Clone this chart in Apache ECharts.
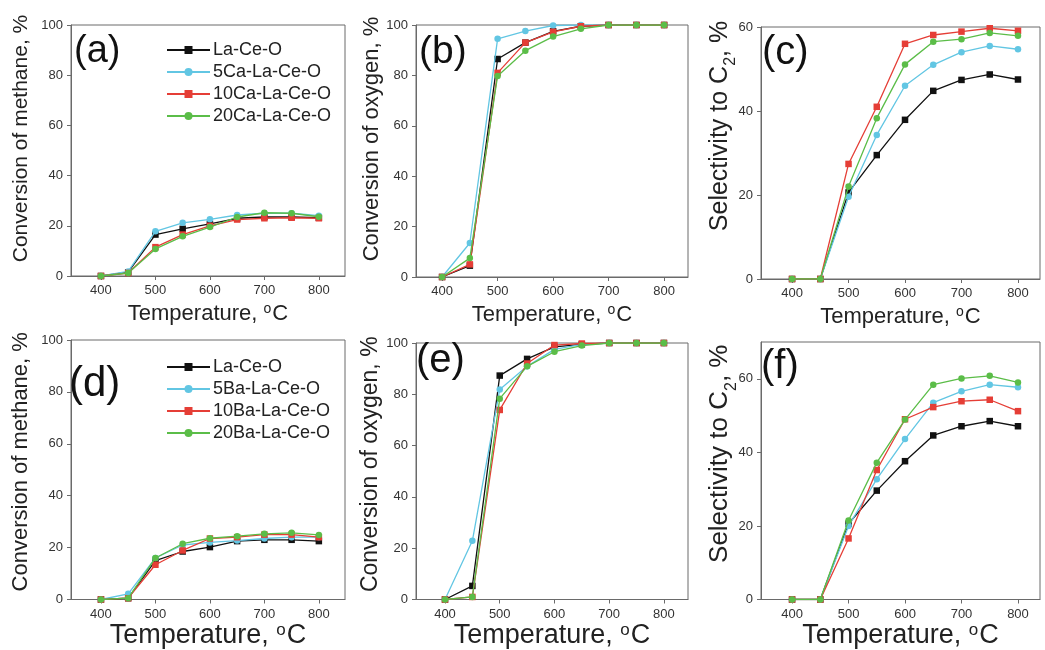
<!DOCTYPE html>
<html>
<head>
<meta charset="utf-8">
<script src="https://cdn.jsdelivr.net/npm/echarts@6/dist/echarts.min.js"></script>
<style>html,body{margin:0;padding:0;background:#fff}#c{width:1045px;height:650px}</style>
</head>
<body>
<div id="c"></div>
<script>
// ---- data ----
const temps = [400, 450, 500, 550, 600, 650, 700, 750, 800];
const xTicks = [400, 500, 600, 700, 800];

const namesCa = ['La-Ce-O', '5Ca-La-Ce-O', '10Ca-La-Ce-O', '20Ca-La-Ce-O'];
const namesBa = ['La-Ce-O', '5Ba-La-Ce-O', '10Ba-La-Ce-O', '20Ba-La-Ce-O'];

// (a) methane conversion, Ca
const aLaCeO = [0, 1.5, 16.5, 18.8, 20.8, 23.0, 23.5, 23.5, 23.2];
const a5Ca   = [0, 1.8, 17.8, 21.2, 22.6, 24.3, 25.0, 25.0, 24.0];
const a10Ca  = [0, 1.2, 11.5, 16.5, 20.0, 22.5, 23.0, 23.2, 23.0];
const a20Ca  = [0, 1.2, 10.8, 15.8, 19.5, 23.5, 25.2, 25.0, 23.6];
// (b) oxygen conversion, Ca
const bLaCeO = [0, 4.5, 86.5, 93.0, 97.5, 99.5, 100, 100, 100];
const b5Ca   = [0, 13.5, 94.5, 97.6, 99.8, 100, 100, 100, 100];
const b10Ca  = [0, 5.0, 81.0, 93.0, 97.3, 99.5, 100, 100, 100];
const b20Ca  = [0, 7.5, 79.8, 89.8, 95.4, 98.5, 100, 100, 100];
// (c) C2 selectivity, Ca
const cLaCeO = [0, 0, 20.6, 29.5, 37.9, 44.8, 47.4, 48.7, 47.5];
const c5Ca   = [0, 0, 19.6, 34.3, 46.0, 51.0, 54.0, 55.5, 54.7];
const c10Ca  = [0, 0, 27.4, 41.0, 56.0, 58.1, 58.9, 59.7, 59.1];
const c20Ca  = [0, 0, 22.0, 38.3, 51.1, 56.5, 57.1, 58.6, 57.9];
// (d) methane conversion, Ba
const dLaCeO = [0, 0.5, 15.0, 18.5, 20.2, 22.5, 23.0, 23.0, 22.5];
const d5Ba   = [0, 2.2, 16.0, 21.0, 22.0, 22.7, 23.5, 24.0, 24.0];
const d10Ba  = [0, 0.5, 13.4, 18.9, 23.5, 24.0, 25.0, 25.0, 24.0];
const d20Ba  = [0, 0.5, 16.0, 21.5, 23.6, 24.4, 25.3, 25.7, 24.9];
// (e) oxygen conversion, Ba
const eLaCeO = [0, 5.3, 87.3, 93.8, 98.5, 99.5, 100, 100, 100];
const e5Ba   = [0, 22.9, 81.9, 90.9, 97.5, 99.5, 100, 100, 100];
const e10Ba  = [0, 1.0, 73.9, 92.0, 99.2, 99.8, 100, 100, 100];
const e20Ba  = [0, 1.0, 78.3, 90.9, 96.6, 99.0, 100, 100, 100];
// (f) C2 selectivity, Ba
const fLaCeO = [0, 0, 20.6, 29.6, 37.6, 44.6, 47.1, 48.5, 47.1];
const f5Ba   = [0, 0, 20.0, 32.7, 43.6, 53.5, 56.6, 58.4, 57.7];
const f10Ba  = [0, 0, 16.6, 35.2, 49.0, 52.3, 53.9, 54.3, 51.2];
const f20Ba  = [0, 0, 21.5, 37.2, 48.9, 58.4, 60.1, 60.8, 59.0];

// ---- styles ----
const FONT = 'Liberation Sans, Arial, sans-serif';
const COLORS = ['#111111', '#62c6e3', '#e53e36', '#5bbd48'];
const SYMBOLS = ['rect', 'circle', 'rect', 'circle'];
const AX = '#6a6a6a';

const panels = [
  {lab: '(a)', names: namesCa, data: [aLaCeO, a5Ca, a10Ca, a20Ca], grid: {left: 71, top: 25, width: 274, height: 251}, xr: [345, 848], ymax: 100, yname: 'Conversion of methane, %', ygap: 39, yshift: 24, yfs: 21, xfs: 22, labPos: [74, 33], labFs: 38},
  {lab: '(b)', names: namesCa, data: [bLaCeO, b5Ca, b10Ca, b20Ca], grid: {left: 416, top: 25, width: 272, height: 252}, xr: [353, 843], ymax: 100, yname: 'Conversion of oxygen, %', ygap: 33, yshift: 24, yfs: 22, xfs: 22, labPos: [419, 33], labFs: 39},
  {lab: '(c)', names: namesCa, data: [cLaCeO, c5Ca, c10Ca, c20Ca], grid: {left: 761, top: 27, width: 279, height: 252}, xr: [345, 839], ymax: 60, yname: 'sel', ygap: 22, yshift: 54, yfs: 25, xfs: 22, labPos: [762, 33], labFs: 40},
  {lab: '(d)', names: namesBa, data: [dLaCeO, d5Ba, d10Ba, d20Ba], grid: {left: 71, top: 340, width: 274, height: 261}, xr: [345, 848], ymax: 100, yname: 'Conversion of methane, %', ygap: 39, yshift: 16, yfs: 22, xfs: 27, labPos: [69, 363], labFs: 42},
  {lab: '(e)', names: namesBa, data: [eLaCeO, e5Ba, e10Ba, e20Ba], grid: {left: 416, top: 343, width: 272, height: 259}, xr: [347, 844], ymax: 100, yname: 'Conversion of oxygen, %', ygap: 34, yshift: 14, yfs: 23, xfs: 27, labPos: [416, 341], labFs: 40},
  {lab: '(f)', names: namesBa, data: [fLaCeO, f5Ba, f10Ba, f20Ba], grid: {left: 761, top: 342, width: 279, height: 260}, xr: [345, 839], ymax: 70, yname: 'sel', ygap: 21, yshift: 34, yfs: 26, xfs: 27, labPos: [761, 347], labFs: 40}
];

const grids = [], xAxes = [], yAxes = [], series = [], titles = [], legends = [];

panels.forEach((p, i) => {
  grids.push(Object.assign({show: true, borderColor: AX, borderWidth: 1, backgroundColor: 'transparent'}, p.grid));
  xAxes.push({
    type: 'value', gridIndex: i, min: p.xr[0], max: p.xr[1],
    name: 'Temperature, {sup|o}C', nameLocation: 'middle', nameGap: i < 3 ? 26 : 22,
    nameMoveOverlap: false,
    nameTextStyle: {fontFamily: FONT, fontSize: p.xfs, color: '#222',
      rich: {sup: {fontFamily: FONT, fontSize: Math.round(p.xfs * 0.62), color: '#222', verticalAlign: 'bottom', padding: [0, 1, Math.round(p.xfs * 0.42), 0]}}},
    axisLine: {show: true, lineStyle: {color: AX, width: 1}},
    axisTick: {show: true, length: 4, lineStyle: {color: AX}, customValues: xTicks},
    axisLabel: {fontFamily: FONT, fontSize: 13, color: '#333', margin: 8, customValues: xTicks},
    splitLine: {show: false}
  });
  const selName = '{t|Selectivity to C}{s|2}{t|, %}';
  yAxes.push({
    type: 'value', gridIndex: i, min: 0, max: p.ymax, interval: 20,
    name: p.yname === 'sel' ? selName : p.yname,
    nameLocation: 'middle', nameRotate: 90, nameGap: p.ygap,
    nameMoveOverlap: false,
    nameTextStyle: {fontFamily: FONT, fontSize: p.yfs, color: '#222', padding: [0, 0, 0, p.yshift],
      rich: {
        t: {fontFamily: FONT, fontSize: p.yfs, color: '#222', verticalAlign: 'bottom', padding: [0, 0, Math.round(p.yfs * 0.25), 0]},
        s: {fontFamily: FONT, fontSize: Math.round(p.yfs * 0.62), color: '#222', verticalAlign: 'bottom'}
      }},
    axisLine: {show: true, lineStyle: {color: AX, width: 1}},
    axisTick: {show: true, length: 4, lineStyle: {color: AX}},
    axisLabel: {fontFamily: FONT, fontSize: 13, color: '#333', margin: 8, showMaxLabel: p.ymax % 20 === 0},
    splitLine: {show: false}
  });
  p.data.forEach((arr, k) => {
    series.push({
      type: 'line', name: p.names[k], xAxisIndex: i, yAxisIndex: i,
      data: temps.map((t, j) => [t, arr[j]]),
      symbol: SYMBOLS[k], symbolSize: 6.5, showSymbol: true,
      lineStyle: {color: COLORS[k], width: 1.3},
      itemStyle: {color: COLORS[k]},
      emphasis: {disabled: true}, animation: false, z: 2 + k
    });
  });
  titles.push({text: p.lab, left: p.labPos[0], top: p.labPos[1], padding: 0,
    textStyle: {fontFamily: FONT, fontSize: p.labFs, fontWeight: 'normal', color: '#111'}});
});

legends.push({data: namesCa, orient: 'vertical', left: 166, top: 41, itemWidth: 43, itemHeight: 10, itemGap: 4, padding: 0,
  textStyle: {fontFamily: FONT, fontSize: 18, color: '#222', padding: [0, 0, 0, -2]}, selectedMode: false});
legends.push({data: namesBa, orient: 'vertical', left: 166, top: 358, itemWidth: 43, itemHeight: 10, itemGap: 4, padding: 0,
  textStyle: {fontFamily: FONT, fontSize: 18, color: '#222', padding: [0, 0, 0, -2]}, selectedMode: false});

const chart = echarts.init(document.getElementById('c'), null, {renderer: 'canvas'});
chart.setOption({
  backgroundColor: '#ffffff',
  animation: false,
  title: titles,
  legend: legends,
  grid: grids,
  xAxis: xAxes,
  yAxis: yAxes,
  series: series
});
</script>
</body>
</html>
